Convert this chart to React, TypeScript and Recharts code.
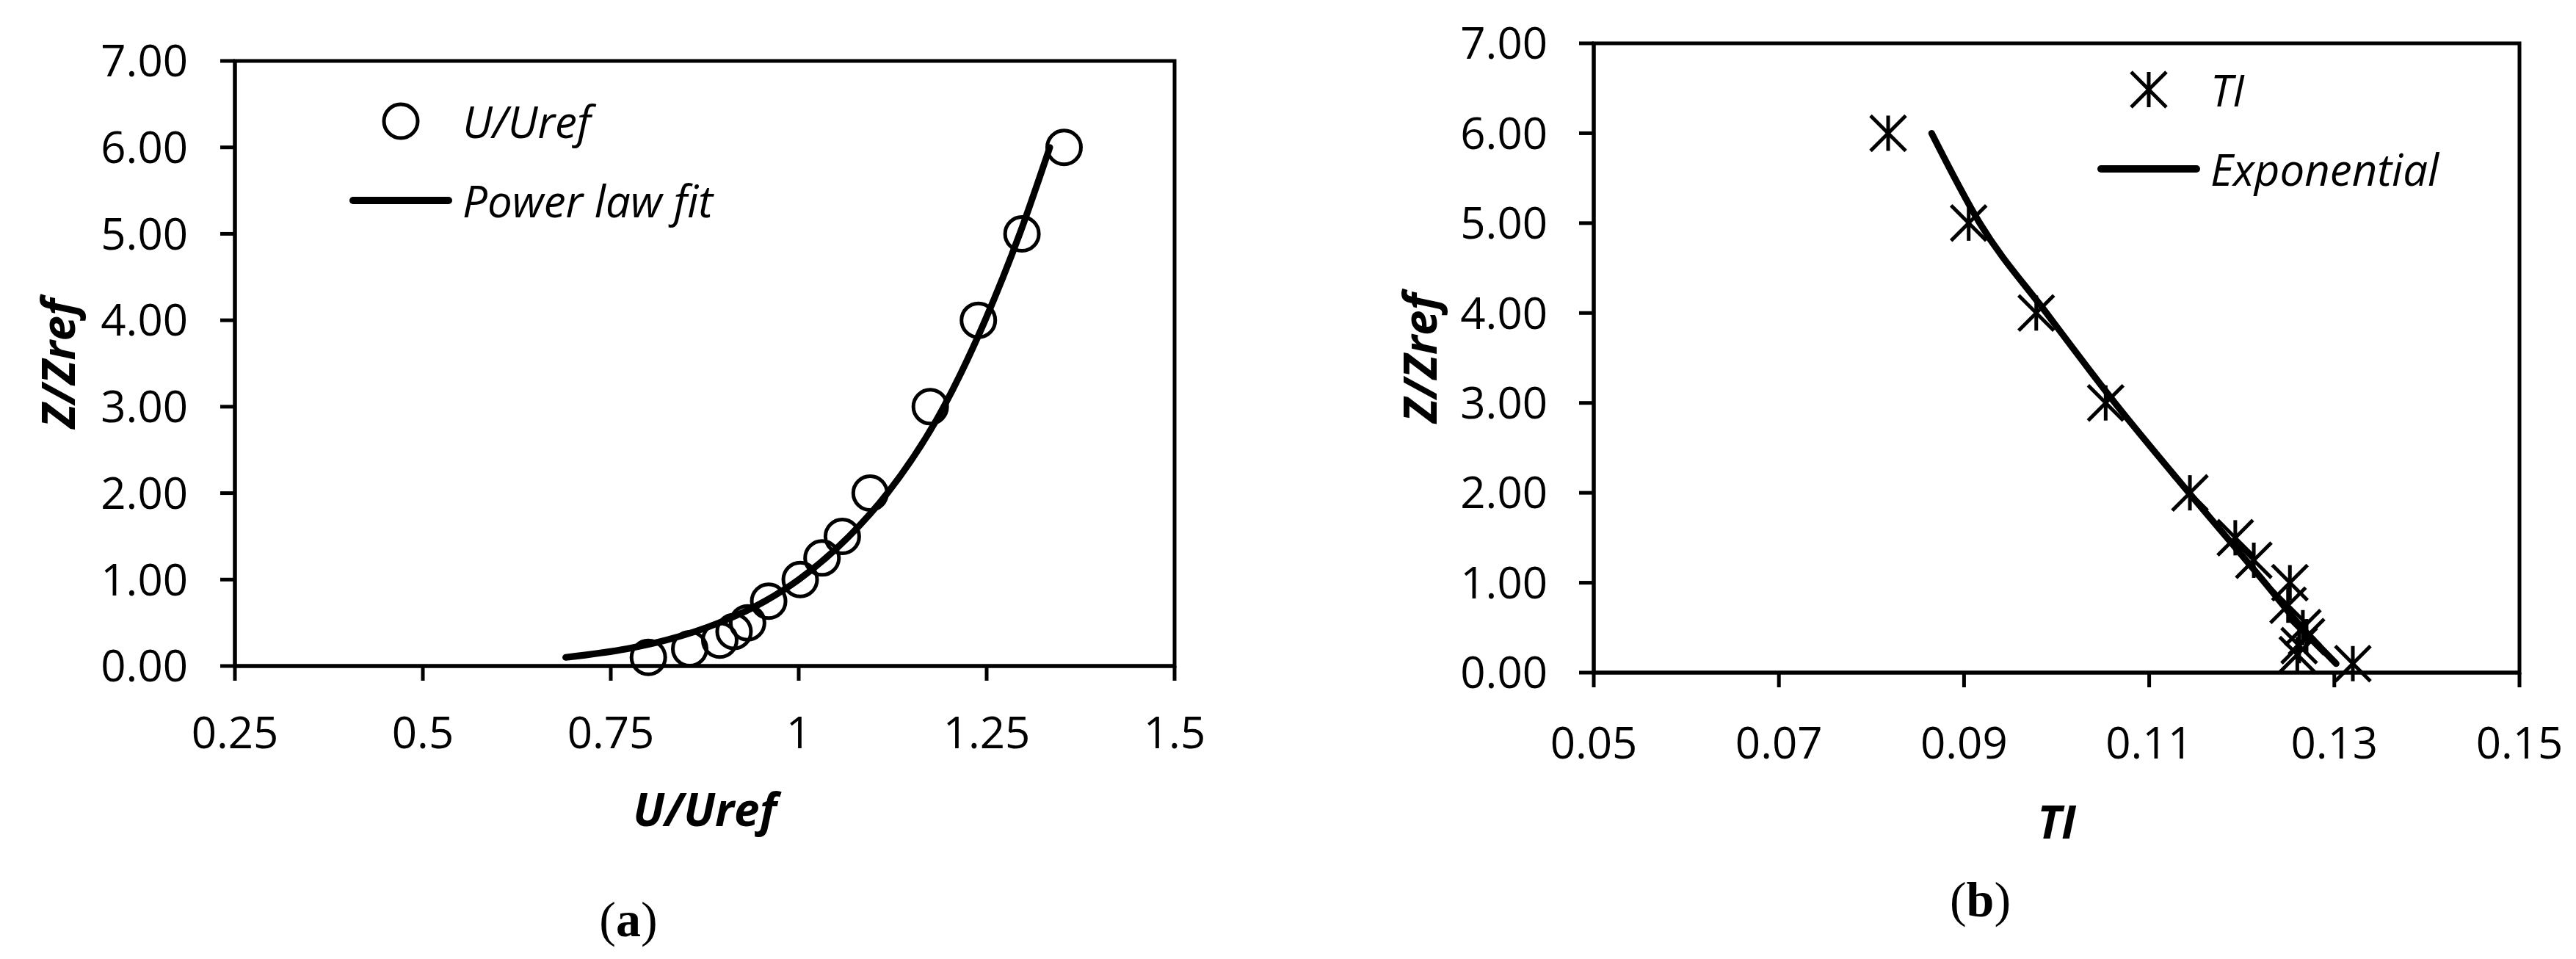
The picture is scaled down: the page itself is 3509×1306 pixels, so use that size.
import React from "react";
import {
  ComposedChart,
  Scatter,
  Line,
  XAxis,
  YAxis,
  Legend,
  Label,
  ReferenceArea,
} from "recharts";

// shared heights Z/Zref of the measurement points
const zLevels = [0.1, 0.2, 0.3, 0.4, 0.5, 0.75, 1, 1.25, 1.5, 2, 3, 4, 5, 6];

// (a) mean velocity profile
const uMeasured = [
  0.8, 0.855, 0.895, 0.914, 0.932, 0.96, 1.002, 1.031, 1.058, 1.095, 1.175,
  1.239, 1.297, 1.353,
];
const powerFitZ = [0.1, 0.2, 0.3, 0.5, 0.75, 1, 1.5, 2, 3, 4, 5, 6];
const powerFitU = [
  0.69, 0.772, 0.824, 0.894, 0.955, 1.0, 1.067, 1.118, 1.193, 1.248, 1.294,
  1.334,
];

// (b) turbulence intensity profile
const tiMeasured = [
  0.132, 0.126, 0.1262, 0.127, 0.1266, 0.125, 0.1252, 0.1213, 0.1193, 0.1144,
  0.1053, 0.0978, 0.0905, 0.0818,
];
const expFitTI = [0.0865, 0.0917, 0.0989, 0.1063, 0.1143, 0.1225, 0.1265, 0.1302];
const expFitZ = [6, 5, 4, 3, 2, 1, 0.5, 0.1];

const uTicks = [0.25, 0.5, 0.75, 1, 1.25, 1.5];
const tiTicks = [0.05, 0.07, 0.09, 0.11, 0.13, 0.15];
const zTicks = [0, 1, 2, 3, 4, 5, 6, 7];

const FONT = '"Open Sans", "Noto Sans", sans-serif';
const SERIF = '"Liberation Serif", "DejaVu Serif", serif';
const INK = "#000";

const uPoints = zLevels.map((z, i) => ({ u: uMeasured[i], z }));
const powerFit = powerFitZ.map((z, i) => ({ u: powerFitU[i], z }));
const tiPoints = zLevels.map((z, i) => ({ ti: tiMeasured[i], z }));
const expFit = expFitTI.map((ti, i) => ({ ti, z: expFitZ[i] }));

const tickStyle = { fill: INK, fontSize: 60, fontFamily: FONT };
const tickLine = { stroke: INK, strokeWidth: 5 };
const axisLine = { stroke: INK, strokeWidth: 5 };

const CircleMarker = (props: any) => (
  <circle cx={props.cx} cy={props.cy} r={23} fill="none" stroke={INK} strokeWidth={5} />
);

const StarMarker = (props: any) => {
  const { cx, cy } = props;
  const s = 24;
  return (
    <g stroke={INK} strokeWidth={5} fill="none">
      <line x1={cx - s} y1={cy - s} x2={cx + s} y2={cy + s} />
      <line x1={cx - s} y1={cy + s} x2={cx + s} y2={cy - s} />
      <line x1={cx} y1={cy - s} x2={cx} y2={cy + s} />
    </g>
  );
};

const legendIcon = (kind: string) => {
  if (kind === "circle") return <CircleMarker cx={70} cy={30} />;
  if (kind === "star") return <StarMarker cx={70} cy={30} />;
  return (
    <line x1={5} y1={30} x2={135} y2={30} stroke={INK} strokeWidth={10} strokeLinecap="round" />
  );
};

const makeLegend =
  (rows: { name: string; icon: string }[]) =>
  () => (
    <div style={{ fontFamily: FONT, fontStyle: "italic", fontSize: 60, color: INK }}>
      {rows.map((r) => (
        <div key={r.name} style={{ display: "flex", alignItems: "center", height: 108 }}>
          <svg width={140} height={60} style={{ overflow: "visible" }}>
            {legendIcon(r.icon)}
          </svg>
          <span style={{ marginLeft: 14, lineHeight: 1, whiteSpace: "nowrap" }}>{r.name}</span>
        </div>
      ))}
    </div>
  );

const xTitle =
  (title: string, caption: string, titleDy: number, captionDy: number) =>
  (props: any) => {
    const vb = props.viewBox || {};
    const cx = vb.x + vb.width / 2;
    const capX = cx - 104;
    return (
      <g>
        <text
          x={cx}
          y={vb.y + titleDy}
          textAnchor="middle"
          fontFamily={FONT}
          fontSize={62}
          fontWeight="bold"
          fontStyle="italic"
          fill={INK}
        >
          {title}
        </text>
        <text
          x={capX}
          y={vb.y + captionDy}
          textAnchor="middle"
          fontFamily={SERIF}
          fontSize={68}
          fill={INK}
        >
          (<tspan fontWeight="bold">{caption}</tspan>)
        </text>
      </g>
    );
  };

const yTitle = (centerX: number) => (props: any) => {
  const vb = props.viewBox || {};
  const cy = vb.y + vb.height / 2;
  return (
    <text
      x={centerX}
      y={cy}
      transform={`rotate(-90 ${centerX} ${cy})`}
      textAnchor="middle"
      dominantBaseline="central"
      fontFamily={FONT}
      fontSize={62}
      fontWeight="bold"
      fontStyle="italic"
      fill={INK}
    >
      Z/Zref
    </text>
  );
};

function VelocityChart() {
  return (
    <ComposedChart
      width={1700}
      height={1306}
      margin={{ top: 83, right: 100, left: 0, bottom: 199 }}
    >
      <ReferenceArea x1={0.25} x2={1.5} y1={0} y2={7} fill="none" stroke={INK} strokeWidth={5} />
      <XAxis
        type="number"
        dataKey="u"
        domain={[0.25, 1.5]}
        ticks={uTicks}
        interval={0}
        height={200}
        tickSize={20}
        tickMargin={49}
        tick={tickStyle}
        tickLine={tickLine}
        axisLine={axisLine}
        tickFormatter={(v: number) => String(v)}
      >
        <Label content={xTitle("U/Uref", "a", 218, 368)} />
      </XAxis>
      <YAxis
        type="number"
        dataKey="z"
        domain={[0, 7]}
        ticks={zTicks}
        interval={0}
        width={320}
        tickSize={20}
        tickMargin={44}
        tick={tickStyle}
        tickLine={tickLine}
        axisLine={axisLine}
        tickFormatter={(v: number) => v.toFixed(2)}
      >
        <Label content={yTitle(78)} />
      </YAxis>
      <Scatter
        data={uPoints}
        name="U/Uref"
        shape={CircleMarker}
        isAnimationActive={false}
      />
      <Line
        data={powerFit}
        dataKey="z"
        name="Power law fit"
        type="monotone"
        stroke={INK}
        strokeWidth={9}
        strokeLinecap="round"
        dot={false}
        activeDot={false}
        isAnimationActive={false}
      />
      <Legend
        layout="vertical"
        align="center"
        verticalAlign="middle"
        wrapperStyle={{ left: 476, top: 111, width: "auto" }}
        content={makeLegend([
          { name: "U/Uref", icon: "circle" },
          { name: "Power law fit", icon: "line" },
        ])}
      />
    </ComposedChart>
  );
}

function TurbulenceChart() {
  return (
    <ComposedChart
      width={1709}
      height={1306}
      margin={{ top: 59, right: 77, left: 0, bottom: 190 }}
    >
      <ReferenceArea x1={0.05} x2={0.15} y1={0} y2={7} fill="none" stroke={INK} strokeWidth={5} />
      <XAxis
        type="number"
        dataKey="ti"
        domain={[0.05, 0.15]}
        ticks={tiTicks}
        interval={0}
        height={200}
        tickSize={20}
        tickMargin={54}
        tick={tickStyle}
        tickLine={tickLine}
        axisLine={axisLine}
        tickFormatter={(v: number) => v.toFixed(2)}
      >
        <Label content={xTitle("TI", "b", 226, 332)} />
      </XAxis>
      <YAxis
        type="number"
        dataKey="z"
        domain={[0, 7]}
        ticks={zTicks}
        interval={0}
        width={371}
        tickSize={20}
        tickMargin={43}
        tick={tickStyle}
        tickLine={tickLine}
        axisLine={axisLine}
        tickFormatter={(v: number) => v.toFixed(2)}
      >
        <Label content={yTitle(133)} />
      </YAxis>
      <Scatter data={tiPoints} name="TI" shape={StarMarker} isAnimationActive={false} />
      <Line
        data={expFit}
        dataKey="z"
        name="Exponential"
        type="monotone"
        stroke={INK}
        strokeWidth={9}
        strokeLinecap="round"
        dot={false}
        activeDot={false}
        isAnimationActive={false}
      />
      <Legend
        layout="vertical"
        align="center"
        verticalAlign="middle"
        wrapperStyle={{ left: 1057, top: 68, width: "auto" }}
        content={makeLegend([
          { name: "TI", icon: "star" },
          { name: "Exponential", icon: "line" },
        ])}
      />
    </ComposedChart>
  );
}

export default function App() {
  return (
    <div
      style={{
        position: "absolute",
        left: 0,
        top: 0,
        width: 3509,
        height: 1306,
        background: "#fff",
        overflow: "hidden",
      }}
    >
      <div style={{ position: "absolute", left: 0, top: 0 }}>
        <VelocityChart />
      </div>
      <div style={{ position: "absolute", left: 1800, top: 0 }}>
        <TurbulenceChart />
      </div>
    </div>
  );
}
